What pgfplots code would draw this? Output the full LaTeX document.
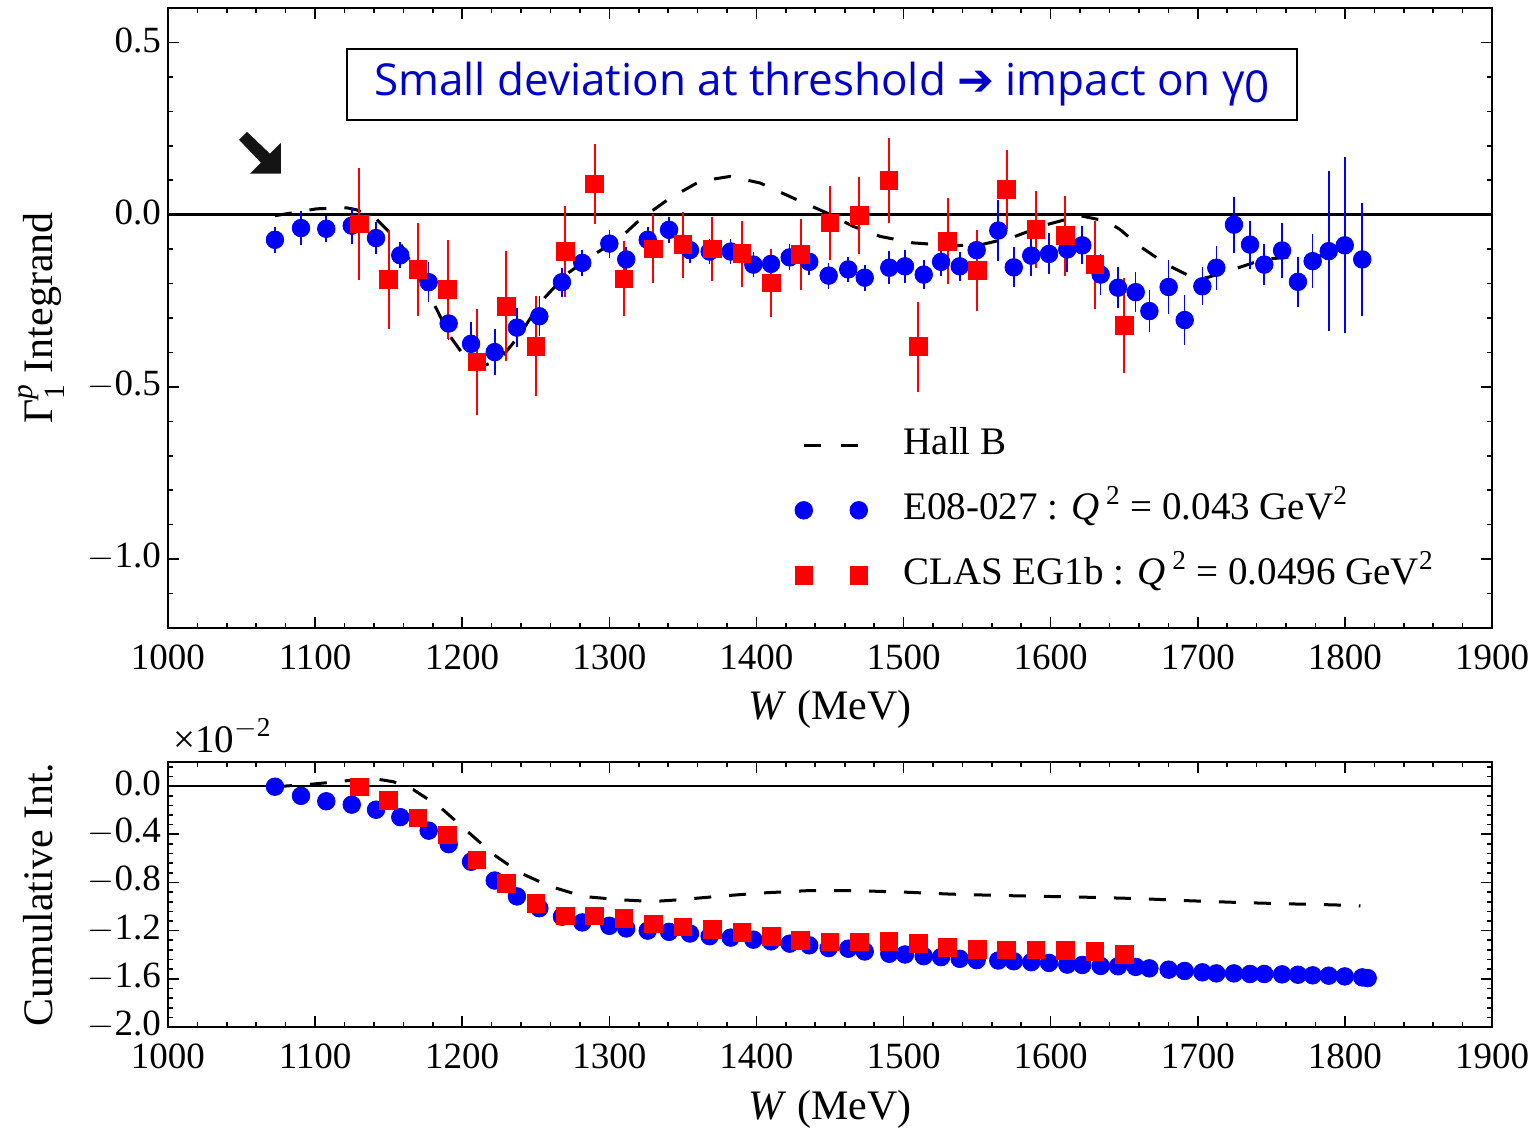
\documentclass[border=0pt]{standalone}
\usepackage{fontspec}
\setmainfont{Liberation Serif}
\newfontfamily\boxfont{Open Sans}
\newfontfamily\dejavu{DejaVu Sans}
\usepackage{amsmath}
\usepackage{pgfplots}
\pgfplotsset{compat=1.18}
\usepackage{pgfplotstable}

\definecolor{myblue}{RGB}{0,0,255}
\definecolor{myred}{RGB}{255,0,0}
\definecolor{boxblue}{RGB}{0,0,205}

\pgfplotstableread{
x y e
1072.7 -0.073 0.020
1090.4 -0.039 0.032
1107.6 -0.041 0.020
1124.9 -0.032 0.035
1141.4 -0.068 0.030
1157.9 -0.118 0.020
1177.2 -0.196 0.040
1190.8 -0.316 0.030
1206.0 -0.375 0.047
1222.1 -0.399 0.050
1237.2 -0.328 0.040
1252.4 -0.295 0.040
1267.8 -0.196 0.025
1281.6 -0.140 0.020
1300.0 -0.084 0.023
1311.5 -0.130 0.020
1326.1 -0.073 0.020
1340.6 -0.044 0.020
1354.8 -0.103 0.020
1368.2 -0.107 0.020
1382.5 -0.107 0.020
1397.9 -0.145 0.020
1409.9 -0.143 0.020
1422.6 -0.124 0.020
1435.9 -0.137 0.020
1449.1 -0.177 0.020
1462.4 -0.159 0.020
1473.6 -0.183 0.020
1490.3 -0.154 0.030
1501.0 -0.150 0.030
1513.7 -0.174 0.025
1525.5 -0.137 0.025
1538.2 -0.150 0.025
1549.7 -0.103 0.030
1564.4 -0.046 0.070
1574.9 -0.153 0.041
1586.8 -0.119 0.042
1598.9 -0.114 0.042
1611.3 -0.101 0.048
1621.5 -0.089 0.038
1634.0 -0.174 0.042
1645.8 -0.212 0.043
1657.8 -0.225 0.040
1667.1 -0.280 0.043
1680.2 -0.210 0.061
1691.1 -0.306 0.054
1703.1 -0.208 0.038
1712.6 -0.154 0.046
1724.6 -0.029 0.064
1735.5 -0.087 0.052
1745.2 -0.145 0.043
1757.3 -0.104 0.063
1768.1 -0.195 0.055
1778.1 -0.135 0.061
1789.0 -0.106 0.214
1799.9 -0.089 0.238
1811.8 -0.130 0.147
}\blueTop

\pgfplotstableread{
x y e
1130 -0.027 0.148
1150 -0.188 0.129
1170 -0.159 0.119
1190 -0.217 0.129
1210 -0.428 0.138
1230 -0.266 0.144
1250 -0.382 0.129
1270 -0.106 0.116
1290 0.089 0.101
1310 -0.186 0.093
1330 -0.099 0.084
1350 -0.087 0.080
1370 -0.099 0.077
1390 -0.113 0.080
1410 -0.198 0.082
1430 -0.116 0.087
1450 -0.024 0.092
1470 -0.002 0.096
1490 0.099 0.107
1510 -0.383 0.115
1530 -0.077 0.109
1550 -0.162 0.101
1570 0.074 0.099
1590 -0.043 0.097
1610 -0.061 0.100
1630 -0.145 0.112
1650 -0.322 0.122
}\redTop

\pgfplotstableread{
x y
1072.7 -0.003
1089.7 0.009
1101.1 0.017
1121.5 0.020
1128.3 0.014
1141.9 -0.014
1157.7 -0.082
1171.3 -0.188
1182.7 -0.275
1191.7 -0.353
1203.0 -0.420
1212.1 -0.443
1225.7 -0.420
1239.3 -0.348
1252.9 -0.256
1270.5 -0.174
1289.1 -0.117
1307.3 -0.068
1320.9 -0.014
1341.2 0.048
1361.6 0.097
1382.0 0.111
1402.4 0.092
1425.1 0.048
1447.8 0.005
1465.8 -0.034
1484.0 -0.063
1506.6 -0.082
1533.8 -0.090
1552.0 -0.088
1574.6 -0.065
1597.3 -0.029
1620.0 -0.003
1638.1 -0.019
1647.1 -0.043
1660.7 -0.092
1678.9 -0.145
1692.5 -0.174
1706.1 -0.183
1724.2 -0.159
1744.6 -0.130
1767.3 -0.121
1795.8 -0.119
}\hallTop

\pgfplotstableread{
x y
1072.7 -0.005
1090.4 -0.081
1107.6 -0.126
1124.9 -0.154
1141.4 -0.196
1157.9 -0.258
1177.2 -0.370
1190.8 -0.482
1206.0 -0.628
1222.1 -0.784
1237.2 -0.916
1252.4 -1.014
1267.8 -1.084
1281.6 -1.132
1300.0 -1.160
1311.5 -1.182
1326.1 -1.200
1340.6 -1.210
1354.8 -1.224
1368.2 -1.246
1382.5 -1.258
1397.9 -1.275
1409.9 -1.289
1422.6 -1.308
1435.9 -1.322
1449.1 -1.345
1462.4 -1.350
1473.6 -1.373
1490.3 -1.392
1501.0 -1.398
1513.7 -1.412
1525.5 -1.420
1538.2 -1.434
1549.7 -1.445
1564.4 -1.448
1574.9 -1.454
1586.8 -1.462
1598.9 -1.468
1611.3 -1.482
1621.5 -1.485
1634.0 -1.493
1645.8 -1.496
1657.8 -1.501
1667.1 -1.513
1680.2 -1.524
1691.1 -1.535
1703.1 -1.546
1712.6 -1.555
1724.6 -1.555
1735.5 -1.560
1745.2 -1.560
1757.3 -1.563
1768.1 -1.566
1778.1 -1.571
1789.0 -1.574
1799.9 -1.580
1811.8 -1.588
1815.5 -1.594
}\blueBot

\pgfplotstableread{
x y
1130 -0.006
1150 -0.118
1170 -0.263
1190 -0.406
1210 -0.613
1230 -0.809
1250 -0.972
1270 -1.078
1290 -1.078
1310 -1.098
1330 -1.143
1350 -1.168
1370 -1.190
1390 -1.216
1410 -1.246
1430 -1.283
1450 -1.294
1470 -1.294
1490 -1.289
1510 -1.308
1530 -1.339
1550 -1.356
1570 -1.359
1590 -1.359
1610 -1.364
1630 -1.373
1650 -1.398
}\redBot

\pgfplotstableread{
x y
1072.7 -0.006
1098.8 0.017
1126.0 0.050
1141.9 0.059
1153.2 0.036
1166.7 -0.029
1184.9 -0.174
1203.0 -0.370
1221.1 -0.566
1239.3 -0.720
1259.7 -0.832
1282.3 -0.916
1307.3 -0.944
1329.9 -0.958
1347.3 -0.944
1373.3 -0.916
1402.5 -0.888
1434.9 -0.868
1467.3 -0.868
1499.8 -0.880
1532.3 -0.897
1564.7 -0.908
1597.2 -0.916
1629.6 -0.924
1662.0 -0.935
1694.5 -0.952
1726.9 -0.966
1759.4 -0.977
1791.9 -0.986
1810.6 -0.994
}\hallBot

\pgfplotsset{
  panel/.style={
    scale only axis, width=662pt, xmin=1000, xmax=1900, clip=false,
    axis line style={line width=1.25pt},
    tick align=inside,
    major tick length=5.5pt, minor tick length=2.7pt,
    every tick/.style={black, line width=0.8pt},
    xtick={1000,1100,...,1900},
    xticklabels={1000,1100,1200,1300,1400,1500,1600,1700,1800,1900},
    minor xtick={1000,1020,...,1900},
    tick label style={font=\fontsize{18.5}{20}\selectfont},
    label style={font=\fontsize{21}{24}\selectfont},
    xlabel={\textit{W} (MeV)},
    xlabel style={at={(axis description cs:0.5,0)}, anchor=base, yshift=-46pt},
    ylabel style={at={(axis description cs:-0.0869,0.5)}, anchor=base},
    xticklabel style={yshift=-4.8pt},
    yticklabel style={yshift=1.2pt},
  },
  hall/.style={black, line width=1.5pt, dash pattern=on 8.5pt off 9pt},
  twomarks/.style={legend image code/.code={\draw[##1] plot coordinates {(0pt,0pt) (27.5pt,0pt)};}},
  lineimg/.style={legend image code/.code={\draw[##1] (0pt,0pt) -- (27.5pt,0pt);}},
}

\begin{document}
\begin{tikzpicture}
\useasboundingbox (-84pt,-250.5pt) rectangle (684.5pt,314pt);
\begin{axis}[panel, name=top, at={(0,0)}, anchor=south west,
  height=310pt, ymin=-1.2, ymax=0.6,
  ytick={-1,-0.5,0,0.5},
  yticklabels={$-$1.0,$-$0.5,0.0,0.5},
  minor ytick={-1.2,-1.1,...,0.6},
  ylabel={Γ$_{\text{1}}^{\textit{p}}$ Integrand},
  legend style={at={(axis cs:1426.2,-0.6145)}, anchor=north west, draw=none, fill=none,
    inner sep=0pt, outer sep=0pt, row sep=13.5pt, column sep=18pt,
    font=\fontsize{19.5}{22}\selectfont,
    nodes={inner sep=0pt, text height=14pt, text depth=5pt}},
  legend cell align=left,
]
\addplot[black, line width=1.25pt, forget plot] coordinates {(1000,0) (1900,0)};
\addplot[hall, forget plot] table[x=x,y=y] {\hallTop};
\addplot[only marks, mark=*, myblue, mark size=4.4pt, forget plot,
  error bars/.cd, y dir=both, y explicit,
  error bar style={line width=0.8pt, myblue},
  error mark options={myblue, line width=0.8pt, mark size=3pt}]
  table[x=x,y=y,y error=e] {\blueTop};
\addplot[only marks, mark=square*, myred, mark size=4.4pt, forget plot,
  error bars/.cd, y dir=both, y explicit,
  error bar style={line width=1pt, myred},
  error mark options={myred, line width=1pt, mark size=2.7pt}]
  table[x=x,y=y,y error=e] {\redTop};

\addlegendimage{hall, dash pattern=on 8.5pt off 10pt, lineimg}
\addlegendentry{Hall B}
\addlegendimage{only marks, mark=*, myblue, mark size=4.4pt, twomarks}
\addlegendentry{E08-027 : \textit{Q}\,\textsuperscript{2} = 0.043 GeV\textsuperscript{2}}
\addlegendimage{only marks, mark=square*, myred, mark size=4.4pt, twomarks}
\addlegendentry{CLAS EG1b : \textit{Q}\,\textsuperscript{2} = 0.0496 GeV\textsuperscript{2}}

\fill[black!92] (axis cs:1053.7,0.2406) -- (axis cs:1069.3,0.1768) -- (axis cs:1076.8,0.2087)
  -- (axis cs:1076.8,0.1188) -- (axis cs:1055.7,0.1188) -- (axis cs:1063.2,0.1507)
  -- (axis cs:1048.3,0.2174) -- cycle;
\node[draw=black, line width=0.8pt, minimum width=475pt, minimum height=35.5pt, inner sep=0pt,
  text=boxblue, font=\boxfont\fontsize{22}{26}\selectfont]
  at (axis cs:1444.6,0.378) {\raisebox{-2pt}{Small deviation at threshold {\dejavu ➔} impact on γ\raisebox{-0.3ex}{0}}};
\end{axis}

\begin{axis}[panel, name=bot, at={(0,-67pt)}, anchor=north west,
  height=132.5pt, ymin=-2.0, ymax=0.2,
  ytick={-2,-1.6,-1.2,-0.8,-0.4,0},
  yticklabels={$-$2.0,$-$1.6,$-$1.2,$-$0.8,$-$0.4,0.0},
  minor ytick={-2,-1.92,...,0.2},
  ylabel={Cumulative Int.},
]
\addplot[black, line width=1.25pt] coordinates {(1000,0) (1900,0)};
\addplot[hall] table[x=x,y=y] {\hallBot};
\addplot[only marks, mark=*, myblue, mark size=4.4pt] table[x=x,y=y] {\blueBot};
\addplot[only marks, mark=square*, myred, mark size=4.4pt] table[x=x,y=y] {\redBot};
\node[anchor=base west, inner sep=0pt, font=\fontsize{19.5}{22}\selectfont, xshift=2.5pt, yshift=5pt]
  at (rel axis cs:0,1) {×10\textsuperscript{$-$2}};
\end{axis}
\end{tikzpicture}
\end{document}
